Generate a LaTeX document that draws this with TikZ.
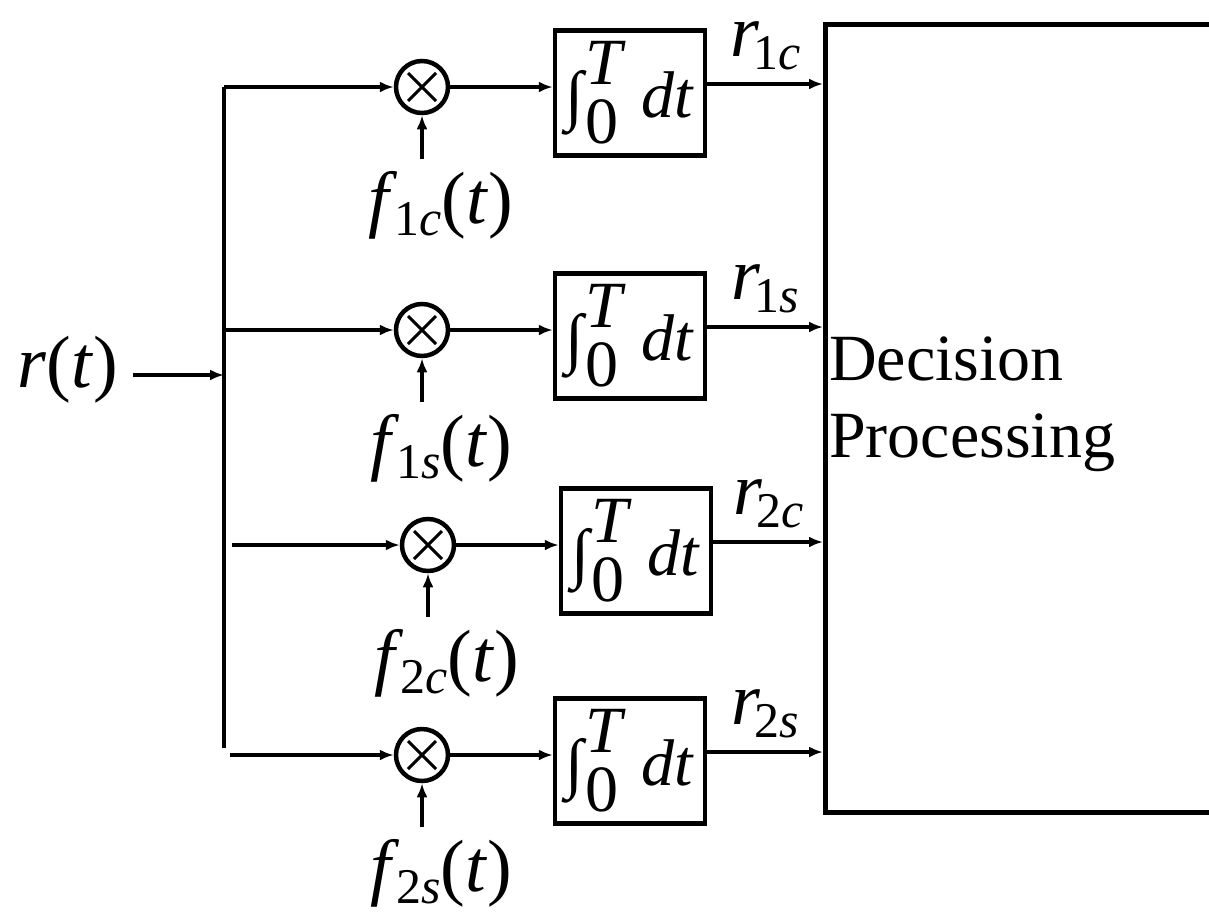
\documentclass[tikz,border=0pt]{standalone}
\usepackage{fontspec}
\setmainfont{Liberation Serif}
\usetikzlibrary{arrows.meta,positioning}

\newcommand{\lbl}[3][0pt]{\textit{#2}\hspace{#1}\raisebox{-0.17em}{\fontsize{50}{50}\selectfont #3}}
\newcommand{\intdt}{∫\hspace{2pt}\rlap{\raisebox{0.5em}{\textit{T}}}\raisebox{-0.4em}{0}\hspace{0.35em}\textit{dt}}

\begin{document}
\begin{tikzpicture}[x=1pt, y=-1pt, font=\fontsize{66}{77}\selectfont,
    sig/.style={line width=4pt, -{Latex[length=14pt,width=11pt]}},
    mult/.style={circle, draw, line width=4.5pt, minimum size=52pt, inner sep=0,
      path picture={\draw[line width=3pt]
        ([shift={(-14pt,-14pt)}]path picture bounding box.center) -- ([shift={(14pt,14pt)}]path picture bounding box.center)
        ([shift={(-14pt,14pt)}]path picture bounding box.center) -- ([shift={(14pt,-14pt)}]path picture bounding box.center);}},
    intbox/.style={draw, line width=4.5pt, minimum width=150pt, minimum height=125pt, inner sep=0},
    txt/.style={inner sep=0},
    mathlbl/.style={txt, font=\fontsize{74}{80}\selectfont}]
  \useasboundingbox (0,0) rectangle (1209,916);

  % Input and bus
  \node[mathlbl] (rt) at (68,370) {\textit{r}(\textit{t})};
  \coordinate (rtout) at (133,375);
  \coordinate (busin) at (224,375);
  \coordinate (bustop) at (224,87);
  \coordinate (busbot) at (224,748);
  \draw[line width=4pt] (busbot) -- (bustop);
  \draw[sig] (rtout) -- (busin);

  % Decision block
  \node[intbox, anchor=north west, minimum width=420pt, minimum height=788pt] (dec) at (823,22) {};
  \node[txt, anchor=west, align=left] (dectxt) at ([xshift=6pt,yshift=14pt]dec.west) {Decision\\Processing};

  % Correlator branches
  \foreach \n/\y/\dx/\sub in {1/87/0/1\textit{c}, 2/330/0/1\textit{s}, 3/545/6/2\textit{c}, 4/755/0/2\textit{s}} {
      \node[mult] (m\n) at (422+\dx,\y) {};
      \node[intbox] (int\n) at (630+\dx,\y+6) {\intdt};
      \node[mathlbl] (f\n) at (441+\dx,\y+118) {\lbl[-3pt]{f}{\sub}(\textit{t})};
      \coordinate[below=44pt of m\n.south] (fin\n);
      \draw[sig] (fin\n) -- (m\n.south);
      \draw[sig] (m\n.east) -- (m\n.east -| int\n.west);
      \draw[sig] ([yshift=9pt]int\n.east) -- ([yshift=9pt]int\n.east -| dec.west)
        node[midway, above=12pt, mathlbl] {\lbl[-6pt]{r}{\sub}};
    }

  % Taps from the bus
  \coordinate (br3) at (232,545);
  \coordinate (br4) at (230,755);
  \draw[sig] (bustop) -- (m1.west);
  \draw[sig] (bustop |- m2.west) -- (m2.west);
  \draw[sig] (br3 |- m3.west) -- (m3.west);
  \draw[sig] (br4) -- (m4.west);
\end{tikzpicture}
\end{document}
